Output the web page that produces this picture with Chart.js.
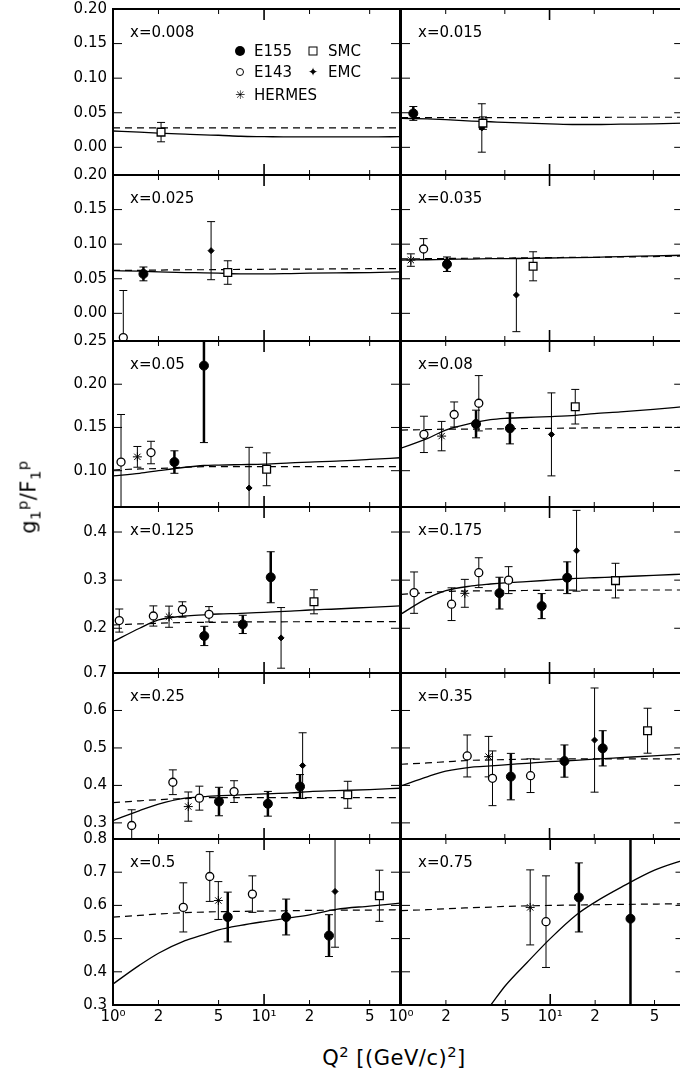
<!DOCTYPE html>
<html><head><meta charset="utf-8">
<script src="https://cdn.jsdelivr.net/npm/chart.js@4.4.1/dist/chart.umd.min.js"></script>
<style>
html,body{margin:0;padding:0;background:#fff;}
body{width:680px;height:1080px;overflow:hidden;position:relative;font-family:"DejaVu Sans",sans-serif;color:#000;}
canvas{position:absolute;}
.t{position:absolute;font-size:15px;line-height:18px;white-space:nowrap;transform:translateY(-50%);}
.mk{position:absolute;box-sizing:border-box;transform:translate(-50%,-50%);}
.ttl{position:absolute;font-size:21px;line-height:1;white-space:nowrap;letter-spacing:0.5px;}
.ttl sub,.ttl sup{font-size:70%;line-height:0;}
</style></head><body>
<script>
// ---------- data ----------
const Q_TICKS = [1, 2, 5, 10, 20, 50];
const Q_TICK_LABELS = ['10\u2070', '2', '5', '10\u00B9', '2', '5'];
const X_MAX = 79.4;
const PANEL_LABELS = ['x=0.008','x=0.015','x=0.025','x=0.035','x=0.05','x=0.08',
                      'x=0.125','x=0.175','x=0.25','x=0.35','x=0.5','x=0.75'];
const ROW_Y_MIN = [-0.04, -0.04, 0.058, 0.107, 0.257, 0.30];
const ROW_Y_MAX = [0.20, 0.20, 0.25, 0.452, 0.70, 0.80];
const ROW_Y_TICKS = [[0,0.05,0.10,0.15,0.20],[0,0.05,0.10,0.15,0.20],[0.10,0.15,0.20,0.25],
                     [0.2,0.3,0.4],[0.3,0.4,0.5,0.6,0.7],[0.3,0.4,0.5,0.6,0.7,0.8]];
const ROW_Y_DECIMALS = [2, 2, 2, 1, 1, 1];

// curves: values at CURVE_Q2 for each of the 12 panels
const CURVE_Q2 = [1, 1.5, 2, 3, 4, 5, 7, 10, 15, 20, 30, 50, 80];
const SOLID = [
  [0.0236,0.022,0.0205,0.019,0.018,0.0175,0.016,0.0155,0.015,0.015,0.015,0.015,0.0155],
  [0.042,0.041,0.040,0.038,0.037,0.036,0.035,0.034,0.033,0.033,0.0335,0.034,0.035],
  [0.0617,0.061,0.060,0.059,0.0585,0.058,0.057,0.057,0.0575,0.058,0.0585,0.059,0.060],
  [0.077,0.0775,0.078,0.0785,0.079,0.079,0.0795,0.080,0.0805,0.081,0.082,0.083,0.084],
  [0.094,0.097,0.100,0.104,0.106,0.1065,0.107,0.1075,0.109,0.110,0.111,0.113,0.115],
  [0.126,0.137,0.147,0.155,0.159,0.1605,0.1615,0.1625,0.164,0.166,0.168,0.171,0.174],
  [0.172,0.200,0.2172,0.2255,0.228,0.2296,0.231,0.2331,0.2355,0.2379,0.240,0.2435,0.2465],
  [0.2296,0.262,0.278,0.288,0.292,0.2945,0.297,0.300,0.3035,0.305,0.307,0.310,0.3125],
  [0.306,0.333,0.350,0.366,0.370,0.3728,0.375,0.3773,0.380,0.3835,0.386,0.389,0.3925],
  [0.3986,0.423,0.438,0.449,0.452,0.455,0.459,0.4635,0.467,0.470,0.474,0.479,0.484],
  [0.3634,0.420,0.456,0.494,0.512,0.5263,0.540,0.5514,0.563,0.5716,0.588,0.598,0.607],
  [null,null,null,null,0.300,0.358,0.428,0.500,0.572,0.610,0.655,0.706,0.738]
];
const DASHED = [
  [0.028,0.028,0.028,0.028,0.028,0.028,0.028,0.028,0.028,0.028,0.028,0.028,0.028],
  [0.043,0.043,0.043,0.043,0.043,0.043,0.043,0.0432,0.0433,0.0434,0.0435,0.0435,0.0435],
  [0.062,0.0622,0.0625,0.063,0.063,0.0632,0.0635,0.0637,0.064,0.064,0.0642,0.0645,0.0646],
  [0.0786,0.079,0.0793,0.0797,0.080,0.080,0.0803,0.0805,0.081,0.081,0.0815,0.082,0.083],
  [0.1008,0.102,0.1025,0.104,0.1046,0.1046,0.1046,0.1046,0.1046,0.1046,0.1046,0.1046,0.1046],
  [0.147,0.1475,0.148,0.148,0.1483,0.1485,0.1488,0.149,0.1493,0.1495,0.1497,0.150,0.150],
  [0.2068,0.209,0.2105,0.212,0.2122,0.2125,0.213,0.2133,0.2135,0.2136,0.2136,0.2136,0.2136],
  [0.2706,0.274,0.2765,0.2775,0.2778,0.278,0.2785,0.279,0.2792,0.2793,0.2794,0.2795,0.2795],
  [0.354,0.359,0.362,0.365,0.367,0.3674,0.3674,0.3674,0.3674,0.3674,0.3674,0.3674,0.3674],
  [0.4565,0.460,0.463,0.467,0.468,0.469,0.470,0.4705,0.4706,0.4707,0.4707,0.4707,0.4707],
  [0.5646,0.570,0.574,0.578,0.580,0.581,0.582,0.583,0.584,0.585,0.5855,0.586,0.587],
  [0.5845,0.587,0.590,0.593,0.595,0.597,0.5985,0.600,0.601,0.602,0.603,0.604,0.605]
];

// points: [panel, Q2, g1/F1, error]
const E155 = [
  [1,1.21,0.049,0.010],[2,1.59,0.057,0.010],[3,2.04,0.071,0.0105],
  [4,2.55,0.110,0.013],[4,4.0,0.2215,0.089],
  [5,3.2,0.154,0.016],[5,5.41,0.149,0.018],
  [6,4.02,0.184,0.020],[6,7.23,0.208,0.019],[6,11.07,0.306,0.053],
  [7,4.6,0.273,0.033],[7,8.85,0.246,0.026],[7,13.15,0.305,0.033],
  [8,5.03,0.357,0.038],[8,10.6,0.351,0.033],[8,17.3,0.397,0.032],
  [9,5.49,0.4235,0.062],[9,12.6,0.465,0.043],[9,22.8,0.499,0.047],
  [10,5.75,0.565,0.075],[10,14.0,0.565,0.054],[10,26.9,0.509,0.063],
  [11,15.56,0.624,0.104],[11,34.5,0.560,0.35]
];
const E143 = [
  [2,1.17,-0.035,0.068],[3,1.42,0.093,0.015],
  [4,1.13,0.110,0.055],[4,1.785,0.121,0.013],
  [5,1.427,0.142,0.021],[5,2.28,0.165,0.0145],[5,3.34,0.178,0.032],
  [6,1.10,0.216,0.024],[6,1.85,0.2255,0.021],[6,2.88,0.239,0.016],[6,4.32,0.229,0.016],
  [7,1.225,0.274,0.043],[7,2.19,0.250,0.034],[7,3.34,0.3155,0.031],[7,5.3,0.300,0.028],
  [8,1.33,0.293,0.042],[8,2.49,0.4085,0.033],[8,3.73,0.366,0.032],[8,6.33,0.3835,0.029],
  [9,2.79,0.4786,0.056],[9,4.13,0.419,0.073],[9,7.45,0.426,0.045],
  [10,2.92,0.594,0.074],[10,4.37,0.687,0.075],[10,8.37,0.634,0.055],
  [11,9.37,0.551,0.138]
];
const SMC = [
  [0,2.08,0.022,0.014],[1,3.56,0.035,0.009],[2,5.75,0.059,0.017],[3,7.75,0.068,0.021],
  [4,10.4,0.1016,0.019],[5,14.9,0.174,0.020],[6,21.4,0.255,0.025],[7,27.8,0.299,0.036],
  [8,35.8,0.375,0.036],[9,45.7,0.546,0.060],[10,58.0,0.629,0.077]
];
const EMC = [
  [1,3.5,0.028,0.035],[2,4.46,0.0906,0.042],[3,5.98,0.0265,0.053],[4,7.96,0.080,0.047],
  [5,10.3,0.142,0.048],[6,12.96,0.180,0.063],[7,15.2,0.361,0.084],[8,18.0,0.453,0.0875],
  [9,20.1,0.521,0.139],[10,29.5,0.642,0.168]
];
const HERMES = [
  [3,1.165,0.077,0.009],[4,1.45,0.116,0.012],[5,1.877,0.140,0.017],[6,2.35,0.224,0.022],
  [7,2.69,0.2726,0.029],[8,3.15,0.3435,0.039],[9,3.89,0.4768,0.054],[10,4.98,0.6147,0.057],
  [11,7.34,0.594,0.113]
];

// ---------- layout ----------
const ROW_TOP = [9, 175, 341, 507, 673, 839];
const PANEL_H = 166, PANEL_W = 287, COL_LEFT = [113, 401], PAD = 16;

Chart.defaults.font.family = '"DejaVu Sans", sans-serif';
Chart.defaults.font.size = 15;
Chart.defaults.color = '#000';

function pts(list, p) {
  return list.filter(r => r[0] === p).map(r => ({x: r[1], y: r[2], e: r[3]}));
}
function curve(vals) {
  return CURVE_Q2.map((q, i) => ({x: q, y: vals[i]}));
}

function makePlugin(row) {
  return {
    id: 'panelDeco',
    beforeDatasetsDraw(chart) {
      const {ctx, chartArea: a, scales: {x, y}} = chart;
      ctx.save();
      ctx.beginPath(); ctx.rect(a.left, a.top, a.width, a.height); ctx.clip();
      ctx.strokeStyle = '#000';
      chart.data.datasets.forEach(ds => {
        if (!ds.errW) return;
        ds.data.forEach(d => {
          const px = x.getPixelForValue(d.x);
          const p1 = y.getPixelForValue(d.y - d.e), p2 = y.getPixelForValue(d.y + d.e);
          ctx.lineWidth = ds.errW;
          ctx.beginPath(); ctx.moveTo(px, p1); ctx.lineTo(px, p2); ctx.stroke();
          ctx.lineWidth = 1;
          ctx.beginPath();
          ctx.moveTo(px - 4, p1); ctx.lineTo(px + 4, p1);
          ctx.moveTo(px - 4, p2); ctx.lineTo(px + 4, p2);
          ctx.stroke();
        });
      });
      ctx.restore();
    },
    afterDraw(chart) {
      const {ctx, chartArea: a, scales: {x, y}} = chart;
      ctx.save();
      ctx.strokeStyle = '#000';
      Q_TICKS.forEach(v => {
        if (v === 1) return;
        const px = x.getPixelForValue(v);
        const L = v === 10 ? 11 : 5;
        ctx.lineWidth = v === 10 ? 1.6 : 1;
        ctx.beginPath();
        ctx.moveTo(px, a.top); ctx.lineTo(px, a.top + L);
        ctx.moveTo(px, a.bottom); ctx.lineTo(px, a.bottom - L);
        ctx.stroke();
      });
      ctx.lineWidth = 1;
      ctx.beginPath();
      ROW_Y_TICKS[row].forEach(v => {
        const py = y.getPixelForValue(v);
        ctx.moveTo(a.left, py); ctx.lineTo(a.left + 9, py);
        ctx.moveTo(a.right, py); ctx.lineTo(a.right - 9, py);
      });
      ctx.stroke();
      ctx.lineWidth = 2;
      ctx.strokeRect(a.left, a.top, a.right - a.left, a.bottom - a.top);
      ctx.restore();
    }
  };
}

for (let p = 0; p < 12; p++) {
  const row = Math.floor(p / 2), col = p % 2;
  const isLeft = col === 0, isBottom = row === 5;
  const cv = document.createElement('canvas');
  const cLeft = isLeft ? 0 : COL_LEFT[1] - PAD;
  const cW = isLeft ? COL_LEFT[0] + PANEL_W + PAD : PAD + PANEL_W + 2;
  const cTop = ROW_TOP[row] - PAD;
  const cH = PAD + PANEL_H + (isBottom ? 34 : PAD);
  cv.width = cW; cv.height = cH;
  cv.style.left = cLeft + 'px'; cv.style.top = cTop + 'px';
  cv.style.width = cW + 'px'; cv.style.height = cH + 'px';
  document.body.appendChild(cv);

  const datasets = [
    {label: 'E155', data: pts(E155, p), errW: 2.5, pointStyle: 'circle', pointRadius: 4.5,
     pointBackgroundColor: '#000', pointBorderColor: '#000', pointBorderWidth: 1},
    {label: 'E143', data: pts(E143, p), errW: 1, pointStyle: 'circle', pointRadius: 4,
     pointBackgroundColor: '#fff', pointBorderColor: '#000', pointBorderWidth: 1.3},
    {label: 'SMC', data: pts(SMC, p), errW: 1, pointStyle: 'rect', pointRadius: 5.5,
     pointBackgroundColor: '#fff', pointBorderColor: '#000', pointBorderWidth: 1.3},
    {label: 'EMC', data: pts(EMC, p), errW: 1, pointStyle: 'rectRot', pointRadius: 3,
     pointBackgroundColor: '#000', pointBorderColor: '#000', pointBorderWidth: 1},
    {label: 'HERMES', data: pts(HERMES, p), errW: 1, pointStyle: 'star', pointRadius: 4.5,
     pointBackgroundColor: '#000', pointBorderColor: '#000', pointBorderWidth: 1},
    {label: 'dashed', data: curve(DASHED[p]), showLine: true, pointRadius: 0, borderColor: '#000',
     borderWidth: 1.2, borderDash: [7, 5], cubicInterpolationMode: 'monotone', fill: false},
    {label: 'solid', data: curve(SOLID[p]), showLine: true, pointRadius: 0, borderColor: '#000',
     borderWidth: 1.3, cubicInterpolationMode: 'monotone', fill: false, spanGaps: false}
  ];

  const xOpts = {
    type: 'logarithmic', min: 1, max: X_MAX, display: isBottom,
    grid: {display: false, drawTicks: false}, border: {display: false},
    ticks: {autoSkip: false, maxRotation: 0, padding: 3, font: {size: 15},
            callback: (v, i) => Q_TICK_LABELS[i]},
    afterBuildTicks: s => { s.ticks = Q_TICKS.map(v => ({value: v})); }
  };
  if (isBottom) xOpts.afterFit = s => { s.height = 34; };
  const yOpts = {
    type: 'linear', min: ROW_Y_MIN[row], max: ROW_Y_MAX[row], display: isLeft,
    grid: {display: false, drawTicks: false}, border: {display: false},
    ticks: {autoSkip: false, padding: 6, font: {size: 15},
            callback: v => Number(v).toFixed(ROW_Y_DECIMALS[row])},
    afterBuildTicks: s => { s.ticks = ROW_Y_TICKS[row].map(v => ({value: v})); }
  };
  if (isLeft) yOpts.afterFit = s => { s.width = COL_LEFT[0]; };

  new Chart(cv, {
    type: 'scatter',
    data: {datasets},
    options: {
      responsive: false, animation: false, events: [],
      layout: {padding: {top: PAD, bottom: isBottom ? 0 : PAD, left: isLeft ? 0 : PAD, right: isLeft ? PAD : 2}},
      plugins: {legend: {display: false}, tooltip: {enabled: false}},
      scales: {x: xOpts, y: yOpts}
    },
    plugins: [makePlugin(row)]
  });

  const lb = document.createElement('div');
  lb.className = 't';
  lb.textContent = PANEL_LABELS[p];
  lb.style.left = (COL_LEFT[col] + 17) + 'px';
  lb.style.top = (ROW_TOP[row] + 23) + 'px';
  document.body.appendChild(lb);
}

// legend (top-left panel)
function addText(txt, x, y) {
  const d = document.createElement('div'); d.className = 't'; d.textContent = txt;
  d.style.left = x + 'px'; d.style.top = y + 'px'; document.body.appendChild(d);
}
function addMark(css, x, y, txt) {
  const d = document.createElement('div'); d.className = 'mk';
  d.style.cssText += css; d.style.left = x + 'px'; d.style.top = y + 'px';
  if (txt) d.textContent = txt;
  document.body.appendChild(d);
}
addMark('width:10px;height:10px;border-radius:50%;background:#000;', 240, 51);
addText('E155', 254, 51);
addMark('width:9px;height:9px;border:1.3px solid #000;background:#fff;', 313, 51);
addText('SMC', 328, 51);
addMark('width:8px;height:8px;border-radius:50%;border:1.3px solid #000;', 240, 72);
addText('E143', 254, 72);
addMark('font-size:12px;line-height:12px;', 313, 72, '\u2726');
addText('EMC', 328, 72);
addMark('font-size:12px;line-height:12px;', 240, 95, '\u2733');
addText('HERMES', 254, 95);

// axis titles
const yt = document.createElement('div'); yt.className = 'ttl';
yt.innerHTML = 'g<sub>1</sub><sup>p</sup>/F<sub>1</sub><sup>p</sup>';
yt.style.left = '29px'; yt.style.top = '497px';
yt.style.transform = 'translate(-50%,-50%) rotate(-90deg)';
document.body.appendChild(yt);
const xt = document.createElement('div'); xt.className = 'ttl';
xt.innerHTML = 'Q<sup>2</sup> [(GeV/c)<sup>2</sup>]';
xt.style.left = '394px'; xt.style.top = '1058px';
xt.style.transform = 'translate(-50%,-50%)';
document.body.appendChild(xt);
</script>
</body></html>
